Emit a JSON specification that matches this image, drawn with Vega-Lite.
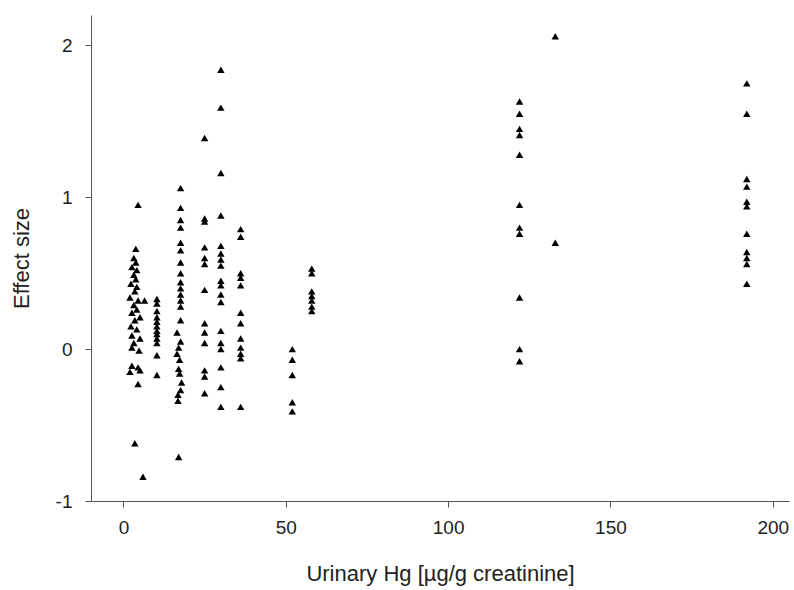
{
  "$schema": "https://vega.github.io/schema/vega-lite/v6.json",
  "width": 698,
  "height": 486,
  "autosize": "none",
  "padding": {"left": 91, "top": 15, "right": 5, "bottom": 89},
  "background": "white",
  "config": {"view": {"stroke": null}, "font": "Liberation Sans"},
  "data": {"values": [
    {"x":4.5,"y":0.95},{"x":3.8,"y":0.66},{"x":3.2,"y":0.60},{"x":3.8,"y":0.57},{"x":2.6,"y":0.54},{"x":4.1,"y":0.52},{"x":3.2,"y":0.49},{"x":3.8,"y":0.46},{"x":2.3,"y":0.43},{"x":4.1,"y":0.41},{"x":3.5,"y":0.38},{"x":2.0,"y":0.34},{"x":4.5,"y":0.32},{"x":6.5,"y":0.32},{"x":3.2,"y":0.29},{"x":4.1,"y":0.26},{"x":2.6,"y":0.24},{"x":5.1,"y":0.21},{"x":3.5,"y":0.19},{"x":2.3,"y":0.15},{"x":4.1,"y":0.13},{"x":2.6,"y":0.09},{"x":5.1,"y":0.07},{"x":3.2,"y":0.04},{"x":2.6,"y":0.01},{"x":4.8,"y":-0.01},{"x":2.6,"y":-0.11},{"x":4.5,"y":-0.12},{"x":2.0,"y":-0.15},{"x":5.1,"y":-0.14},{"x":4.5,"y":-0.23},{"x":3.5,"y":-0.62},{"x":6.0,"y":-0.84},
    {"x":10.3,"y":0.33},{"x":10.3,"y":0.30},{"x":10.3,"y":0.25},{"x":10.3,"y":0.21},{"x":10.3,"y":0.18},{"x":10.3,"y":0.15},{"x":10.3,"y":0.12},{"x":10.3,"y":0.10},{"x":10.3,"y":0.07},{"x":10.3,"y":0.04},{"x":10.3,"y":-0.04},{"x":10.3,"y":-0.17},
    {"x":17.6,"y":1.06},{"x":17.6,"y":0.93},{"x":17.6,"y":0.85},{"x":17.6,"y":0.80},{"x":17.6,"y":0.70},{"x":17.6,"y":0.65},{"x":17.6,"y":0.57},{"x":17.6,"y":0.50},{"x":17.6,"y":0.44},{"x":17.6,"y":0.40},{"x":17.6,"y":0.36},{"x":17.6,"y":0.32},{"x":17.6,"y":0.28},{"x":17.6,"y":0.19},{"x":16.5,"y":0.11},{"x":17.6,"y":0.05},{"x":17.0,"y":0.01},{"x":16.5,"y":-0.03},{"x":17.3,"y":-0.07},{"x":17.0,"y":-0.13},{"x":17.3,"y":-0.16},{"x":17.9,"y":-0.22},{"x":17.6,"y":-0.27},{"x":16.8,"y":-0.30},{"x":16.8,"y":-0.34},{"x":17.0,"y":-0.71},
    {"x":25.0,"y":1.39},{"x":25.0,"y":0.86},{"x":25.0,"y":0.84},{"x":25.0,"y":0.67},{"x":25.0,"y":0.60},{"x":25.0,"y":0.56},{"x":25.0,"y":0.39},{"x":25.0,"y":0.17},{"x":25.0,"y":0.11},{"x":25.0,"y":0.04},{"x":25.0,"y":-0.14},{"x":25.0,"y":-0.18},{"x":25.0,"y":-0.29},
    {"x":30.0,"y":1.84},{"x":30.0,"y":1.59},{"x":30.0,"y":1.16},{"x":30.0,"y":0.88},{"x":30.0,"y":0.68},{"x":30.0,"y":0.63},{"x":30.0,"y":0.59},{"x":30.0,"y":0.55},{"x":30.0,"y":0.45},{"x":30.0,"y":0.42},{"x":30.0,"y":0.36},{"x":30.0,"y":0.31},{"x":30.0,"y":0.12},{"x":30.0,"y":0.04},{"x":30.0,"y":0.0},{"x":30.0,"y":-0.12},{"x":30.0,"y":-0.25},{"x":30.0,"y":-0.38},
    {"x":36.1,"y":0.79},{"x":36.1,"y":0.74},{"x":36.1,"y":0.50},{"x":36.1,"y":0.47},{"x":36.1,"y":0.42},{"x":36.1,"y":0.24},{"x":36.1,"y":0.17},{"x":36.1,"y":0.07},{"x":36.1,"y":0.01},{"x":36.1,"y":-0.03},{"x":36.1,"y":-0.06},{"x":36.1,"y":-0.38},
    {"x":52.0,"y":0.0},{"x":52.0,"y":-0.07},{"x":52.0,"y":-0.17},{"x":52.0,"y":-0.35},{"x":52.0,"y":-0.41},
    {"x":58.0,"y":0.53},{"x":58.0,"y":0.50},{"x":58.0,"y":0.38},{"x":58.0,"y":0.35},{"x":58.0,"y":0.32},{"x":58.0,"y":0.28},{"x":58.0,"y":0.25},
    {"x":122.0,"y":1.63},{"x":122.0,"y":1.55},{"x":122.0,"y":1.45},{"x":122.0,"y":1.41},{"x":122.0,"y":1.28},{"x":122.0,"y":0.95},{"x":122.0,"y":0.80},{"x":122.0,"y":0.76},{"x":122.0,"y":0.34},{"x":122.0,"y":0.0},{"x":122.0,"y":-0.08},
    {"x":133.0,"y":2.06},{"x":133.0,"y":0.70},
    {"x":192.0,"y":1.75},{"x":192.0,"y":1.55},{"x":192.0,"y":1.12},{"x":192.0,"y":1.07},{"x":192.0,"y":0.97},{"x":192.0,"y":0.94},{"x":192.0,"y":0.76},{"x":192.0,"y":0.64},{"x":192.0,"y":0.60},{"x":192.0,"y":0.56},{"x":192.0,"y":0.43}
  ]},
  "mark": {"type": "point", "shape": "triangle-up", "filled": true, "color": "black", "opacity": 1, "size": 55},
  "encoding": {
    "x": {
      "field": "x", "type": "quantitative",
      "scale": {"domain": [-10, 205], "nice": false, "zero": false},
      "axis": {
        "title": "Urinary Hg [µg/g creatinine]", "values": [0, 50, 100, 150, 200],
        "grid": false, "domainColor": "#555", "tickColor": "#555", "tickSize": 6,
        "labelFontSize": 19, "labelColor": "#222", "labelPadding": 11, "labelFont": "Liberation Sans",
        "labelExpr": "'' + datum.value",
        "titleFontSize": 22, "titleFontWeight": "normal", "titleColor": "#222", "titlePadding": 26, "titleFont": "Liberation Sans"
      }
    },
    "y": {
      "field": "y", "type": "quantitative",
      "scale": {"domain": [-1, 2.2], "nice": false, "zero": false},
      "axis": {
        "title": "Effect size", "values": [-1, 0, 1, 2],
        "grid": false, "domainColor": "#555", "tickColor": "#555", "tickSize": 6,
        "labelFontSize": 19, "labelColor": "#222", "labelPadding": 13, "labelFont": "Liberation Sans",
        "labelExpr": "'' + datum.value",
        "titleFontSize": 22, "titleFontWeight": "normal", "titleColor": "#222", "titlePadding": 22, "titleFont": "Liberation Sans"
      }
    }
  }
}
